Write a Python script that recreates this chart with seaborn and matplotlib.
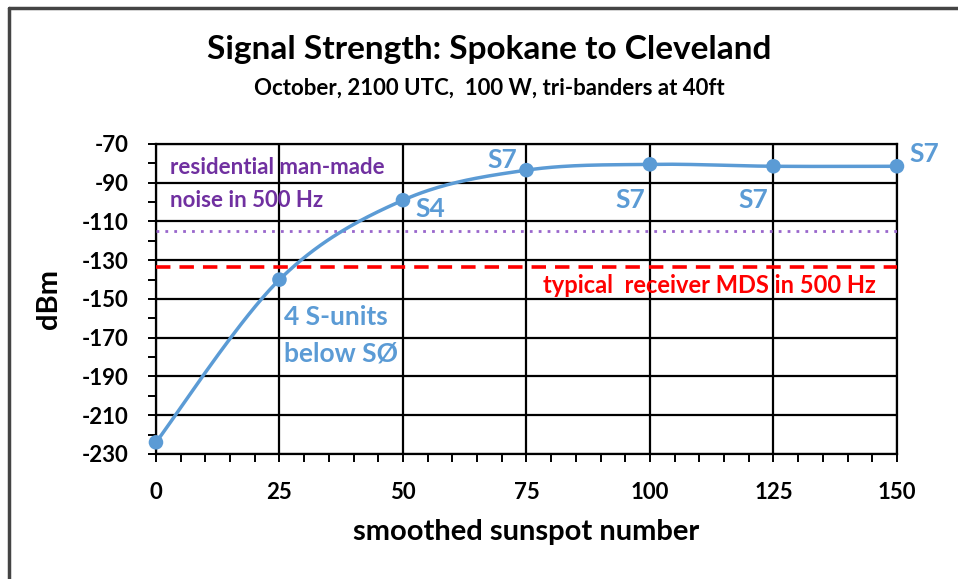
import numpy as np
import pandas as pd
import seaborn as sns
import matplotlib.pyplot as plt
from matplotlib.lines import Line2D
from matplotlib.ticker import MultipleLocator, FixedLocator

# data
sunspots = [0, 25, 50, 75, 100, 125, 150]
dbm = [-224, -140, -99, -83.5, -80.5, -81.5, -81.5]
noise_level = -115
mds_level = -133.5

y_ticks = [-230, -210, -190, -170, -150, -130, -110, -90, -70]
x_ticks = [0, 25, 50, 75, 100, 125, 150]

s_labels = ["S7", "S4", "S7", "S7", "S7"]
s_label_x = [70.2, 55.5, 96, 121, 155.5]
s_label_y = [-78.5, -103.5, -99, -99, -75]

blue = "#5B9BD5"
purple = "#7030A0"
red = "#FF0000"


def excel_smooth(x, y, n=40):
    """Bezier smoothing like Excel's 'smoothed line' option"""
    x = np.asarray(x, float)
    y = np.asarray(y, float)
    px = np.concatenate([[x[0]], x, [x[-1]]])
    py = np.concatenate([[y[0]], y, [y[-1]]])
    xs, ys = [], []
    t = np.linspace(0, 1, n)
    for i in range(1, len(px) - 2):
        p0 = np.array([px[i], py[i]])
        p3 = np.array([px[i + 1], py[i + 1]])
        c1 = p0 + (np.array([px[i + 1], py[i + 1]]) - np.array([px[i - 1], py[i - 1]])) / 6
        c2 = p3 - (np.array([px[i + 2], py[i + 2]]) - np.array([px[i], py[i]])) / 6
        b = ((1 - t) ** 3)[:, None] * p0 + (3 * (1 - t) ** 2 * t)[:, None] * c1 \
            + (3 * (1 - t) * t ** 2)[:, None] * c2 + (t ** 3)[:, None] * p3
        xs.extend(b[:, 0])
        ys.extend(b[:, 1])
    return xs, ys


sns.set_style("white")
plt.rcParams["font.family"] = ["Lato", "DejaVu Sans"]
plt.rcParams["font.weight"] = "bold"
plt.rcParams["axes.unicode_minus"] = False
plt.rcParams["text.color"] = "black"

fig = plt.figure(figsize=(9.58, 5.79), dpi=100)
ax = fig.add_axes([0.1628, 0.2159, 0.7735, 0.5354])

df = pd.DataFrame({"ssn": sunspots, "dbm": dbm})
sx, sy = excel_smooth(sunspots, dbm)
curve = pd.DataFrame({"ssn": sx, "dbm": sy})

# reference lines
ax.axhline(noise_level, color="#9966CC", lw=2, ls=(0, (1, 2.2)), zorder=3)
ax.axhline(mds_level, color=red, lw=2.6, ls=(0, (4, 2.5)), zorder=3)

sns.lineplot(data=curve, x="ssn", y="dbm", sort=False, color=blue, lw=2.5, ax=ax, zorder=4)
sns.scatterplot(data=df, x="ssn", y="dbm", color=blue, s=110, edgecolor="none", ax=ax,
                zorder=5, clip_on=False)

ax.set_xlim(0, 150)
ax.set_ylim(-230, -70)
ax.xaxis.set_major_locator(FixedLocator(x_ticks))
ax.xaxis.set_minor_locator(MultipleLocator(5))
ax.yaxis.set_major_locator(FixedLocator(y_ticks))
ax.yaxis.set_minor_locator(MultipleLocator(10))
ax.grid(True, which="major", color="black", lw=1.6)
ax.set_axisbelow(True)
for sp in ax.spines.values():
    sp.set_color("black")
    sp.set_linewidth(1.6)
ax.tick_params(which="both", direction="out", color="black", width=1.4, length=6,
               bottom=True, left=True, labelsize=16, labelcolor="black")
ax.tick_params(axis="y", pad=14)
ax.tick_params(axis="x", pad=14)
for lab in ax.get_xticklabels() + ax.get_yticklabels():
    lab.set_fontweight("bold")

ax.set_xlabel("smoothed sunspot number", fontsize=21, fontweight="bold", labelpad=12,
              color="black")
ax.set_ylabel("dBm", fontsize=21, fontweight="bold", color="black")
ax.yaxis.set_label_coords(-0.127, 0.5)

# annotations
for t, x, y in zip(s_labels, s_label_x, s_label_y):
    ax.text(x, y, t, color=blue, fontsize=19, fontweight="bold", ha="center", va="center",
            clip_on=False)
ax.text(26, -159.5, "4 S-units", color=blue, fontsize=19, fontweight="bold", va="center")
ax.text(26, -178, "below SØ", color=blue, fontsize=19, fontweight="bold", va="center")
ax.text(2.8, -82, "residential man-made", color=purple, fontsize=16, fontweight="bold",
        va="center")
ax.text(2.8, -99, "noise in 500 Hz", color=purple, fontsize=16, fontweight="bold",
        va="center")
ax.text(78.3, -143, "typical  receiver MDS in 500 Hz", color=red, fontsize=17,
        fontweight="bold", va="center")

fig.text(0.511, 0.914, "Signal Strength: Spokane to Cleveland", ha="center", va="center",
         fontsize=24, fontweight="bold")
fig.text(0.511, 0.848, "October, 2100 UTC,  100 W, tri-banders at 40ft", ha="center",
         va="center", fontsize=16, fontweight="bold")

# chart area border (only left/top visible in the crop)
fig.add_artist(Line2D([0.0099, 0.0099], [0, 0.986], transform=fig.transFigure,
                      color="#444444", lw=2.5))
fig.add_artist(Line2D([0.0099, 1.0], [0.986, 0.986], transform=fig.transFigure,
                      color="#444444", lw=2.5))

fig.savefig("out.png", dpi=100)
